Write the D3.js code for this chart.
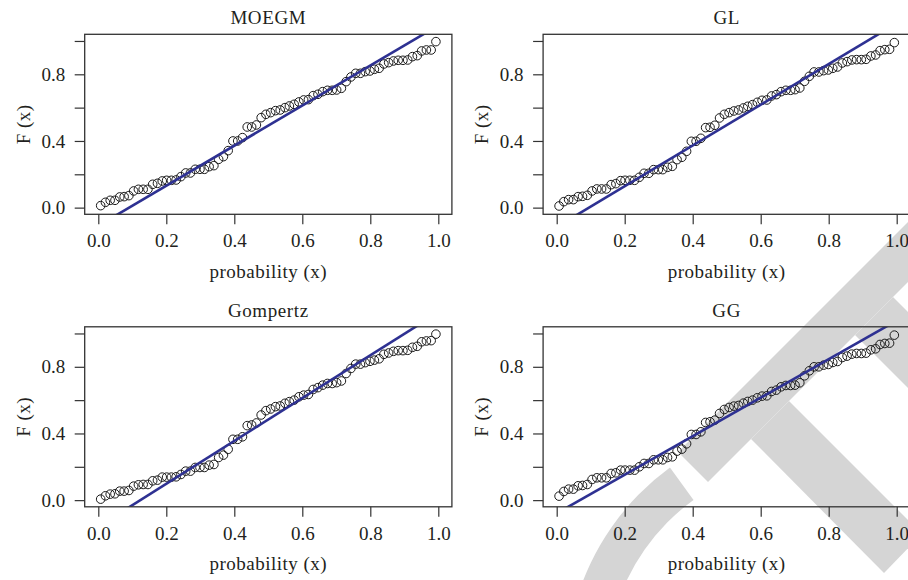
<!DOCTYPE html>
<html>
<head>
<meta charset="utf-8">
<script src="https://cdn.jsdelivr.net/npm/d3@7"></script>
<style>
  html, body { margin: 0; padding: 0; background: #fff; }
  svg { display: block; }
  text { font-family: "Liberation Serif", "Times New Roman", serif; fill: #231f20; }
</style>
</head>
<body>
<svg id="chart" width="908" height="580"></svg>
<script>
// Plotting positions (empirical probabilities) shared by every panel
const probability = [
  0.007, 0.021, 0.035, 0.049, 0.063, 0.076, 0.090, 0.104, 0.118, 0.132,
  0.146, 0.160, 0.174, 0.188, 0.201, 0.215, 0.229, 0.243, 0.257, 0.271,
  0.285, 0.299, 0.312, 0.326, 0.340, 0.354, 0.368, 0.382, 0.396, 0.410,
  0.424, 0.438, 0.451, 0.465, 0.479, 0.493, 0.507, 0.521, 0.535, 0.549,
  0.562, 0.576, 0.590, 0.604, 0.618, 0.632, 0.646, 0.660, 0.674, 0.688,
  0.701, 0.715, 0.729, 0.743, 0.757, 0.771, 0.785, 0.799, 0.812, 0.826,
  0.840, 0.854, 0.868, 0.882, 0.896, 0.910, 0.924, 0.938, 0.951, 0.965,
  0.979, 0.993
];

// Fitted CDF values for each model
const moegmF = [
  0.012, 0.032, 0.044, 0.044, 0.064, 0.066, 0.072, 0.100, 0.110, 0.110,
  0.110, 0.140, 0.146, 0.160, 0.164, 0.164, 0.166, 0.186, 0.208, 0.208,
  0.230, 0.230, 0.230, 0.246, 0.252, 0.290, 0.306, 0.342, 0.400, 0.400,
  0.420, 0.484, 0.484, 0.496, 0.540, 0.560, 0.570, 0.582, 0.586, 0.600,
  0.610, 0.620, 0.634, 0.646, 0.648, 0.672, 0.680, 0.696, 0.704, 0.704,
  0.706, 0.716, 0.756, 0.784, 0.806, 0.806, 0.816, 0.820, 0.830, 0.836,
  0.862, 0.870, 0.880, 0.884, 0.884, 0.886, 0.906, 0.912, 0.940, 0.946,
  0.946, 0.996
];
const glF = [
  0.010, 0.036, 0.048, 0.048, 0.066, 0.068, 0.074, 0.100, 0.112, 0.112,
  0.112, 0.138, 0.144, 0.162, 0.164, 0.164, 0.164, 0.182, 0.206, 0.206,
  0.228, 0.228, 0.228, 0.242, 0.248, 0.288, 0.302, 0.338, 0.398, 0.398,
  0.416, 0.480, 0.482, 0.494, 0.538, 0.560, 0.570, 0.580, 0.586, 0.598,
  0.608, 0.618, 0.632, 0.644, 0.646, 0.670, 0.678, 0.696, 0.704, 0.704,
  0.708, 0.718, 0.758, 0.788, 0.814, 0.814, 0.822, 0.826, 0.836, 0.844,
  0.868, 0.876, 0.886, 0.888, 0.888, 0.890, 0.910, 0.916, 0.942, 0.948,
  0.950, 0.990
];
const gompertzF = [
  0.006, 0.026, 0.036, 0.038, 0.054, 0.054, 0.058, 0.084, 0.092, 0.094,
  0.094, 0.116, 0.120, 0.138, 0.138, 0.138, 0.140, 0.154, 0.174, 0.174,
  0.196, 0.196, 0.196, 0.210, 0.214, 0.256, 0.270, 0.305, 0.365, 0.365,
  0.380, 0.447, 0.451, 0.463, 0.511, 0.537, 0.547, 0.561, 0.565, 0.581,
  0.591, 0.600, 0.620, 0.630, 0.634, 0.664, 0.675, 0.690, 0.700, 0.700,
  0.705, 0.715, 0.760, 0.790, 0.816, 0.816, 0.825, 0.833, 0.840, 0.848,
  0.875, 0.883, 0.893, 0.897, 0.897, 0.899, 0.917, 0.923, 0.950, 0.955,
  0.957, 0.996
];
const ggF = [
  0.024, 0.052, 0.066, 0.066, 0.086, 0.088, 0.094, 0.124, 0.134, 0.134,
  0.134, 0.160, 0.164, 0.180, 0.180, 0.180, 0.180, 0.200, 0.220, 0.220,
  0.242, 0.242, 0.242, 0.256, 0.260, 0.294, 0.306, 0.338, 0.394, 0.394,
  0.410, 0.466, 0.470, 0.480, 0.520, 0.544, 0.556, 0.564, 0.568, 0.582,
  0.592, 0.600, 0.614, 0.624, 0.626, 0.652, 0.660, 0.680, 0.688, 0.688,
  0.690, 0.704, 0.746, 0.776, 0.800, 0.800, 0.810, 0.814, 0.826, 0.832,
  0.856, 0.864, 0.876, 0.880, 0.880, 0.882, 0.902, 0.908, 0.934, 0.940,
  0.942, 0.990
];

// Reference line y = intercept + slope * x for each panel
const lineIntercept = [-0.109, -0.116, -0.159, -0.079];
const lineSlope = [1.202, 1.222, 1.285, 1.156];

const panelTitles = ["MOEGM", "GL", "Gompertz", "GG"];
const panelValues = [moegmF, glF, gompertzF, ggF];

const xTicks = [0, 0.2, 0.4, 0.6, 0.8, 1.0];
const yTicks = [0, 0.2, 0.4, 0.6, 0.8, 1.0];
const yLabelled = [0, 0.4, 0.8];

const svg = d3.select("#chart");

// ---- light grey background emblem ----
const emblem = svg.append("g").attr("fill", "#d5d5d5");
const bands = [
  [[678, 452], [708, 482], [965, 225], [935, 195]],
  [[751, 439], [789, 401], [922, 534], [884, 573]],
  [[855, 335], [893, 297], [990, 394], [952, 432]]
];
bands.forEach(b => emblem.append("path").attr("d", d3.line()(b) + "Z"));
emblem.append("path")
  .attr("transform", "translate(819,672)")
  .attr("d", d3.arc()({ innerRadius: 213, outerRadius: 253, startAngle: -1.95, endAngle: -0.63 }));

// ---- panels ----
const boxW = 367.2, boxH = 180;
const lefts = [84.7, 543.1];
const tops = [34.3, 326.8];
const domain = [-0.04, 1.04];

panelTitles.forEach((title, k) => {
  const left = lefts[k % 2], top = tops[Math.floor(k / 2)];
  const x = d3.scaleLinear().domain(domain).range([left, left + boxW]);
  const y = d3.scaleLinear().domain(domain).range([top + boxH, top]);
  const g = svg.append("g");

  const clipId = "clip" + k;
  svg.append("clipPath").attr("id", clipId)
    .append("rect").attr("x", left).attr("y", top).attr("width", boxW).attr("height", boxH);

  // points
  const vals = panelValues[k];
  g.append("g")
    .selectAll("circle")
    .data(probability.map((p, i) => [p, vals[i]]))
    .join("circle")
    .attr("cx", d => x(d[0]))
    .attr("cy", d => y(d[1]))
    .attr("r", 4.3)
    .attr("fill", "none")
    .attr("stroke", "#1a1a1a")
    .attr("stroke-width", 1);

  // fitted line
  const a = lineIntercept[k], b = lineSlope[k];
  g.append("line")
    .attr("clip-path", `url(#${clipId})`)
    .attr("x1", x(domain[0])).attr("y1", y(a + b * domain[0]))
    .attr("x2", x(domain[1])).attr("y2", y(a + b * domain[1]))
    .attr("stroke", "#2e3192")
    .attr("stroke-width", 2.6);

  // frame
  g.append("rect")
    .attr("x", left).attr("y", top).attr("width", boxW).attr("height", boxH)
    .attr("fill", "none").attr("stroke", "#333").attr("stroke-width", 1.3);

  // x axis
  const xa = g.append("g")
    .attr("transform", `translate(0,${top + boxH})`)
    .call(d3.axisBottom(x).tickValues(xTicks).tickFormat(d3.format(".1f"))
      .tickSize(10).tickPadding(9.5));
  xa.select(".domain").remove();

  // y axis
  const ya = g.append("g")
    .attr("transform", `translate(${left},0)`)
    .call(d3.axisLeft(y).tickValues(yTicks)
      .tickFormat(d => yLabelled.some(v => Math.abs(v - d) < 1e-9) ? d3.format(".1f")(d) : "")
      .tickSize(10).tickPadding(9.5));
  ya.select(".domain").remove();

  [xa, ya].forEach(ax => {
    ax.selectAll(".tick line").attr("stroke", "#333").attr("stroke-width", 1.2);
    ax.selectAll(".tick text").attr("font-size", 19).attr("fill", "#231f20")
      .style("font-family", '"Liberation Serif", serif');
  });

  // title
  g.append("text")
    .attr("x", left + boxW / 2).attr("y", top - 10)
    .attr("text-anchor", "middle").attr("font-size", 19)
    .attr("letter-spacing", 0.6)
    .text(title);

  // axis labels
  g.append("text")
    .attr("x", left + boxW / 2).attr("y", top + boxH + 63.5)
    .attr("text-anchor", "middle").attr("font-size", 19)
    .attr("letter-spacing", 0.5)
    .text("probability (x)");

  g.append("text")
    .attr("transform", `translate(${left - 55},${top + boxH / 2}) rotate(-90)`)
    .attr("text-anchor", "middle").attr("font-size", 19)
    .attr("letter-spacing", 0.5)
    .text("F (x)");
});
</script>
</body>
</html>
